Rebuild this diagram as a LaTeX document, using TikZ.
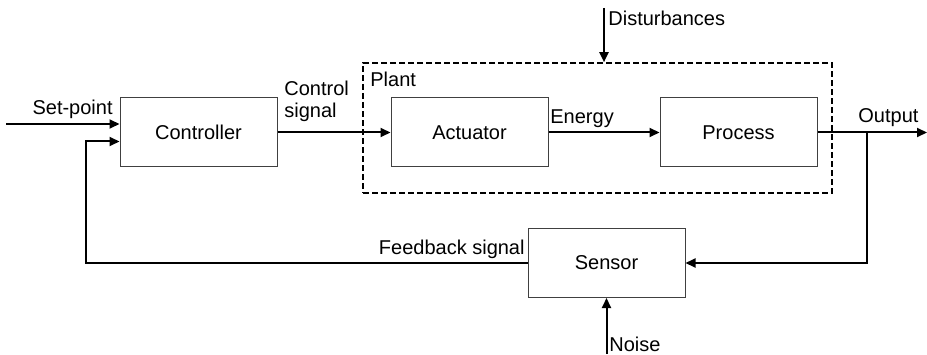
\documentclass[tikz,border=0pt]{standalone}
\usepackage{fontspec}
\setmainfont{Liberation Sans}
\usetikzlibrary{positioning,arrows.meta,fit,calc}

\begin{document}
\begin{tikzpicture}[font=\fontsize{10}{11}\selectfont,
  block/.style={draw=black!75,line width=0.5pt,minimum width=78.5pt,minimum height=34.5pt,inner sep=0pt},
  sig/.style={-{Triangle[length=5pt,width=4.5pt]},line width=1pt},
  plantbox/.style={draw,line width=0.8pt,dash pattern=on 3pt off 1.5pt,inner sep=0pt},
  lbl/.style={inner sep=0pt,align=left},
]
\useasboundingbox (0,0) rectangle (463.5pt,177pt);
% blocks
\node[block] (ctrl) at (99.25pt,110.75pt) {Controller};
\node[block,right=56.5pt of ctrl] (act) {Actuator};
\node[block,right=55.5pt of act] (proc) {Process};
\node[block] (sens) at (303.25pt,45.5pt) {Sensor};
% plant boundary
\coordinate (pnw) at (181.5pt,145.5pt);
\coordinate (pse) at (416pt,80.5pt);
\node[plantbox,fit=(pnw)(pse)] (plant) {};
% free ends
\coordinate (spin) at (3pt,115pt);
\coordinate (fbin) at (43pt,106.25pt);
\coordinate (tap) at (433.5pt,110.75pt);
\coordinate (outend) at (463.5pt,110.75pt);
\coordinate (dist) at (302pt,173pt);
\coordinate (noise) at (303.25pt,0pt);
% labels
\node[lbl,anchor=base west] (plantlbl) at (185pt,133.5pt) {Plant};
\node[lbl,anchor=base east] (splbl) at (56.5pt,119.5pt) {Set-point};
\node[lbl,anchor=south west] (ctlbl) at (142pt,116pt) {Control\\signal};
\node[lbl,anchor=base west] (enlbl) at (275pt,115pt) {Energy};
\node[lbl,anchor=base west] (outlbl) at (429pt,115.5pt) {Output};
\node[lbl,anchor=base east] (fblbl) at (262.5pt,49.5pt) {Feedback signal};
\node[lbl,anchor=base west] (nslbl) at (304.5pt,1.5pt) {Noise};
\node[lbl,anchor=base west] (dslbl) at (304pt,164pt) {Disturbances};
% signals
\draw[sig] (spin) -- (spin -| ctrl.west);
\draw[sig] (ctrl) -- (act);
\draw[sig] (act) -- (proc);
\draw[sig] (proc) -- (outend);
\draw[sig] (tap) |- (sens.east);
\draw[sig] (sens.west) -| (fbin) -- (fbin -| ctrl.west);
\draw[sig] (dist) -- (dist |- plant.north);
\draw[sig] (noise) -- (sens.south);
\end{tikzpicture}
\end{document}
